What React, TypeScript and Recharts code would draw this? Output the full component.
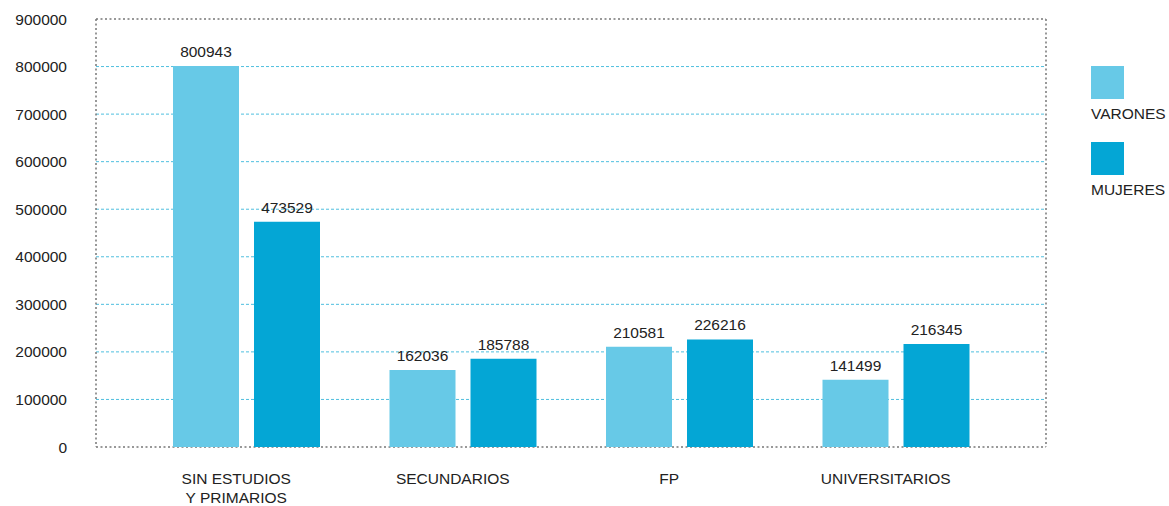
import React from 'react';
import { BarChart, Bar, XAxis, YAxis, CartesianGrid, LabelList } from 'recharts';

const categories = ['SIN ESTUDIOS\nY PRIMARIOS', 'SECUNDARIOS', 'FP', 'UNIVERSITARIOS'];
const varones = [800943, 162036, 210581, 141499];
const mujeres = [473529, 185788, 226216, 216345];
const yTicks = [0, 100000, 200000, 300000, 400000, 500000, 600000, 700000, 800000, 900000];

const data = categories.map((name, i) => ({ name, varones: varones[i], mujeres: mujeres[i] }));

const FONT = '"Liberation Sans", Arial, Helvetica, sans-serif';
const FS = 15.5;
const C_VARONES = '#67c9e7';
const C_MUJERES = '#04a6d5';

const legendItems = [
  { label: 'VARONES', color: C_VARONES },
  { label: 'MUJERES', color: C_MUJERES },
];

function CategoryTick({ x, y, payload }: any) {
  const lines = String(payload.value).split('\n');
  return (
    <text x={x - 10} y={y} textAnchor="middle" fontSize={FS} fill="#222" fontFamily={FONT}>
      {lines.map((l, i) => (
        <tspan key={i} x={x - 10} dy={i === 0 ? 13 : 19}>
          {l}
        </tspan>
      ))}
    </text>
  );
}

function LegendBox() {
  return (
    <div
      style={{
        position: 'absolute',
        left: 1091,
        top: 66,
        fontFamily: FONT,
        fontSize: FS,
        color: '#222',
        lineHeight: '16px',
      }}
    >
      {legendItems.map((it) => (
        <div key={it.label} style={{ height: 76 }}>
          <div style={{ width: 33, height: 33, background: it.color }} />
          <div style={{ marginTop: 7 }}>{it.label}</div>
        </div>
      ))}
    </div>
  );
}

export default function App() {
  return (
    <div style={{ position: 'absolute', left: 0, top: 0, width: 1169, height: 506, background: '#fff' }}>
      <BarChart
        width={1169}
        height={506}
        data={data}
        margin={{ top: 19, right: 123, bottom: 29, left: 0 }}
        barGap={15}
        barSize={66}
      >
        <CartesianGrid
          vertical={false}
          stroke="#4fbfdf"
          strokeDasharray="3 2"
          horizontalCoordinatesGenerator={({ offset }: any) =>
            yTicks
              .filter((t) => t > 0 && t < 900000)
              .map((t) => offset.top + offset.height * (1 - t / 900000))
          }
        />
        <CartesianGrid
          stroke="#777"
          strokeWidth={1.5}
          strokeDasharray="2 2.5"
          horizontalCoordinatesGenerator={({ offset }: any) => [offset.top, offset.top + offset.height]}
          verticalCoordinatesGenerator={({ offset }: any) => [offset.left, offset.left + offset.width]}
        />
        <XAxis
          dataKey="name"
          height={30}
          axisLine={false}
          tickLine={false}
          interval={0}
          padding={{ left: 42, right: 42 }}
          tick={<CategoryTick />}
          tickSize={0}
          tickMargin={24}
        />
        <YAxis
          width={96}
          domain={[0, 900000]}
          ticks={yTicks}
          axisLine={false}
          tickLine={false}
          tickSize={0}
          tickMargin={29}
          tick={{ fontSize: FS, fill: '#222', fontFamily: FONT }}
        />
        <Bar dataKey="varones" name="VARONES" fill={C_VARONES} isAnimationActive={false}>
          <LabelList dataKey="varones" position="top" offset={9} fill="#222" fontSize={FS} fontFamily={FONT} />
        </Bar>
        <Bar dataKey="mujeres" name="MUJERES" fill={C_MUJERES} isAnimationActive={false}>
          <LabelList dataKey="mujeres" position="top" offset={9} fill="#222" fontSize={FS} fontFamily={FONT} />
        </Bar>
      </BarChart>
      <LegendBox />
    </div>
  );
}
